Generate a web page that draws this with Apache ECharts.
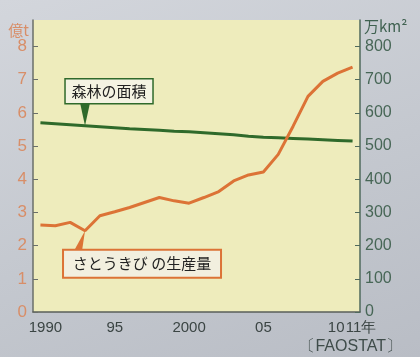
<!DOCTYPE html>
<html><head><meta charset="utf-8">
<script src="https://cdn.jsdelivr.net/npm/echarts@6/dist/echarts.min.js"></script>
<style>
html,body{margin:0;padding:0;}
body{width:420px;height:357px;background:linear-gradient(160deg,#d3d6dc 0%,#c4c8cf 55%,#b9bdc5 100%);}
#c{width:420px;height:357px;}
</style></head><body>
<div id="c"></div>
<script>
const years = ['1990','1991','1992','1993','1994','1995','1996','1997','1998','1999','2000','2001','2002','2003','2004','2005','2006','2007','2008','2009','2010','2011'];
const xLabels = {'1990':'1990','1995':'95','2000':'2000','2005':'05','2010':'10','2011':'11年'};
const sugarcane = [2.62,2.60,2.70,2.45,2.90,3.02,3.15,3.30,3.45,3.35,3.28,3.45,3.63,3.95,4.13,4.22,4.75,5.60,6.50,6.95,7.20,7.38];
const forest = [570,567,564,561,558,555,552,550,548,545,543,540,537,534,530,527,525,523,521,519,517,515];
const leftTicks = [0,1,2,3,4,5,6,7,8];
const rightTicks = [0,100,200,300,400,500,600,700,800];
const forestLabel = '森林の面積';
const sugarLabel = 'さとうきび の生産量';
const leftUnit = '億t';
const rightUnit = '万km²';
const source = '〔FAOSTAT〕';

const numFont = "'Liberation Sans',Arimo,sans-serif";
const jpFont = "'Noto Sans CJK JP',sans-serif";
const xc = '#3b4544';
const chart = echarts.init(document.getElementById('c'));
chart.setOption({
  animation:false,
  grid:{left:33,right:60,top:20,bottom:45,show:true,backgroundColor:'#eeecbc',borderWidth:0},
  xAxis:{type:'category',data:years,boundaryGap:true,
    axisLine:{lineStyle:{color:'#5a5f5a',width:1.5}},
    axisTick:{inside:true,length:5,alignWithLabel:true,interval:0,lineStyle:{color:'#5a5f5a'}},
    axisLabel:{interval:0,margin:8,color:xc,fontSize:15,fontFamily:numFont,
      formatter:v=>{
        const t = xLabels[v]||'';
        if (v==='1990') return '{s|'+t+'}';
        if (v==='2010') return '{m|'+t+'}';
        if (v==='2011') return '{e|'+t+'}';
        return t;
      },
      rich:{s:{padding:[0,0,0,10],fontSize:15,fontFamily:numFont,color:xc},
            m:{padding:[0,3,0,0],fontSize:15,fontFamily:numFont,color:xc},
            e:{padding:[0,0,0,17],fontSize:15,fontFamily:numFont,color:xc}}}},
  yAxis:[
    {type:'value',min:0,max:8.8,interval:1,position:'left',
     name:leftUnit,nameLocation:'end',nameGap:-19,
     nameTextStyle:{align:'right',color:'#d88e68',fontSize:15,fontFamily:jpFont,padding:[0,4,0,0]},
     splitLine:{show:false},
     axisLine:{show:true,lineStyle:{color:'#6a6f6a',width:1.5}},
     axisTick:{show:true,inside:true,length:5,customValues:leftTicks,lineStyle:{color:'#6a6f6a'}},
     axisLabel:{customValues:leftTicks,margin:6,color:'#d88e68',fontSize:17,fontFamily:numFont}},
    {type:'value',min:0,max:880,interval:100,position:'right',
     name:rightUnit,nameLocation:'end',nameGap:-14,
     nameTextStyle:{align:'left',color:'#3f6150',fontSize:15,fontFamily:jpFont,padding:[0,0,0,4]},
     splitLine:{show:false},
     axisLine:{show:true,lineStyle:{color:'#4f6a5c',width:1.5}},
     axisTick:{show:true,inside:true,length:5,customValues:rightTicks,lineStyle:{color:'#4f6a5c'}},
     axisLabel:{customValues:rightTicks,margin:5,color:'#476656',fontSize:16,fontFamily:numFont}}
  ],
  series:[
    {type:'line',name:'forest',yAxisIndex:1,data:forest,symbol:'none',
     lineStyle:{color:'#2f6a2b',width:3}},
    {type:'line',name:'sugar',yAxisIndex:0,data:sugarcane,symbol:'none',
     lineStyle:{color:'#dc7336',width:3}}
  ]
});

const p1 = chart.convertToPixel({seriesIndex:0},['1993',forest[3]]);
const p2 = chart.convertToPixel({seriesIndex:1},['1993',sugarcane[3]]);
chart.setOption({graphic:[
  {type:'polygon',shape:{points:[[p1[0]-5,p1[1]-23],[p1[0]+5,p1[1]-23],[p1[0],p1[1]]]},style:{fill:'#2f6a2b'},z:10},
  {type:'rect',shape:{x:p1[0]-20,y:p1[1]-47,width:88,height:25},style:{fill:'#f4f3e2',stroke:'#2f6a2b',lineWidth:1.5},z:11},
  {type:'text',x:p1[0]+24,y:p1[1]-34.5,style:{text:forestLabel,fill:'#222',font:'15px '+jpFont,align:'center',verticalAlign:'middle'},z:12},
  {type:'polygon',shape:{points:[[p2[0]-11,p2[1]+20],[p2[0]-3,p2[1]+20],[p2[0],p2[1]]]},style:{fill:'#dc7336'},z:10},
  {type:'rect',shape:{x:p2[0]-22,y:p2[1]+19,width:158,height:28},style:{fill:'#f2efdf',stroke:'#dc7336',lineWidth:2},z:11},
  {type:'text',x:p2[0]+57,y:p2[1]+33,style:{text:sugarLabel,fill:'#222',font:'15px '+jpFont,align:'center',verticalAlign:'middle'},z:12},
  {type:'text',right:18,top:339,style:{text:source,fill:'#3f4c4a',font:'16px '+numFont},z:12}
]});
</script></body></html>
